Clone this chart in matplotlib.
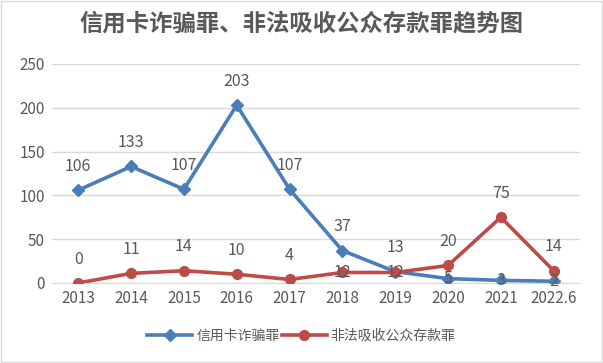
import matplotlib
matplotlib.use("Agg")
import matplotlib.pyplot as plt

plt.rcParams['font.family'] = ['Noto Sans CJK SC', 'DejaVu Sans']

years = ['2013', '2014', '2015', '2016', '2017', '2018', '2019', '2020', '2021', '2022.6']
credit_fraud = [106, 133, 107, 203, 107, 37, 13, 5, 3, 2]
illegal_deposit = [0, 11, 14, 10, 4, 12, 12, 20, 75, 14]
name_a = '信用卡诈骗罪'
name_b = '非法吸收公众存款罪'
title = '信用卡诈骗罪、非法吸收公众存款罪趋势图'

# label offsets (points) - style only
off_a = [11, 11, 11, 11, 11, 11, 11, 0, 0, 0]
off_b = [11, 11, 11, 11, 11, 0, 0, 11, 11, 11]

blue = '#4A7EBB'
red = '#BE4B48'
txt = '#595959'

fig = plt.figure(figsize=(6.03, 3.63), dpi=100)
ax = fig.add_axes([0.086, 0.2204, 0.876, 0.6033])
x = list(range(len(years)))
ax.plot(x, credit_fraud, color=blue, lw=2.6, marker='D', ms=6, label=name_a, zorder=3)
ax.plot(x, illegal_deposit, color=red, lw=2.6, marker='o', ms=7, label=name_b, zorder=3)

for i, v in enumerate(credit_fraud):
    ax.annotate(str(v), (i, v), xytext=(0, off_a[i]), textcoords='offset points',
                ha='center', va='bottom' if off_a[i] else 'center', fontsize=11.5, color=txt, zorder=4)
for i, v in enumerate(illegal_deposit):
    ax.annotate(str(v), (i, v), xytext=(0, off_b[i]), textcoords='offset points',
                ha='center', va='bottom' if off_b[i] else 'center', fontsize=11.5, color=txt, zorder=4)

ax.set_xlim(-0.5, len(years) - 0.5)
ax.set_ylim(0, 250)
ax.set_yticks(range(0, 251, 50))
ax.set_xticks(x)
ax.set_xticklabels(years)
ax.tick_params(axis='both', length=0, labelsize=11, colors=txt, pad=5)
ax.grid(axis='y', color='#D9D9D9', lw=1)
ax.set_axisbelow(True)
for s in ['top', 'right', 'left']:
    ax.spines[s].set_visible(False)
ax.spines['bottom'].set_color('#D9D9D9')

fig.text(0.5, 0.935, title, ha='center', va='center', fontsize=16.8, fontweight='bold', color=txt)

leg = fig.legend(loc='center', bbox_to_anchor=(0.5, 0.075), ncol=2, frameon=False,
                 fontsize=10, handlelength=3.2, columnspacing=0.2, handletextpad=0.3)
for t in leg.get_texts():
    t.set_color(txt)

border = plt.Rectangle((0.002, 0.003), 0.996, 0.994, transform=fig.transFigure,
                       fill=False, edgecolor='#D9D9D9', lw=1)
fig.patches.append(border)

fig.savefig('out.png', dpi=100, facecolor='white')
